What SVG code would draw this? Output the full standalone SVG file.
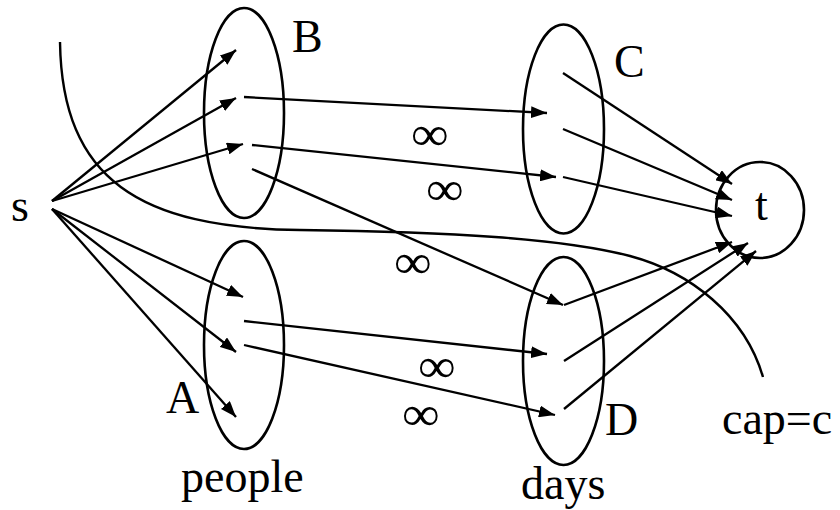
<svg xmlns="http://www.w3.org/2000/svg" width="840" height="510" viewBox="0 0 840 510">
<style>
.set{fill:none;stroke:#000;stroke-width:2.6}
.e{fill:none;stroke:#000;stroke-width:2.3;marker-end:url(#ah)}
.cut{fill:none;stroke:#000;stroke-width:2.4}
text{font-family:"Liberation Serif","Times New Roman",serif;font-size:46px;fill:#000}
.inf{font-size:44px}
</style>
<defs>
<marker id="ah" viewBox="0 0 16 12" refX="16" refY="6" markerWidth="16" markerHeight="12" markerUnits="userSpaceOnUse" orient="auto">
<path d="M0,0 L16,6 L0,12 z" fill="#000"/>
</marker>
</defs>
<rect width="840" height="510" fill="#fff"/>
<g id="node-s"><text x="11" y="221">s</text></g>
<g id="node-B"><ellipse class="set" cx="244" cy="113" rx="40" ry="105"/><text x="292" y="52">B</text></g>
<g id="node-A"><ellipse class="set" cx="244" cy="345" rx="40" ry="104"/><text x="166" y="413">A</text><text x="181" y="492">people</text></g>
<g id="node-C"><ellipse class="set" cx="563.5" cy="129" rx="40.5" ry="104.5"/><text x="614" y="77">C</text></g>
<g id="node-D"><ellipse class="set" cx="563.5" cy="361" rx="40.5" ry="104"/><text x="605" y="435">D</text><text x="521" y="499">days</text></g>
<g id="node-t"><ellipse class="set" cx="760" cy="210" rx="44" ry="48"/><text x="755" y="220">t</text></g>
<g id="connectors">
<line class="e" x1="52" y1="201" x2="236" y2="50"/>
<line class="e" x1="52" y1="201" x2="236" y2="98"/>
<line class="e" x1="52" y1="201" x2="243" y2="144"/>
<line class="e" x1="52" y1="209" x2="243" y2="297"/>
<line class="e" x1="52" y1="209" x2="236" y2="352"/>
<line class="e" x1="52" y1="209" x2="236" y2="417"/>
<line class="e" x1="244" y1="97" x2="547" y2="113"/>
<line class="e" x1="252" y1="145" x2="556" y2="177"/>
<line class="e" x1="252" y1="169" x2="563" y2="305"/>
<line class="e" x1="244" y1="321" x2="547" y2="354"/>
<line class="e" x1="244" y1="345" x2="555" y2="415"/>
<line class="e" x1="563" y1="73" x2="732" y2="184"/>
<line class="e" x1="563" y1="129" x2="732" y2="200"/>
<line class="e" x1="563" y1="177" x2="732" y2="216"/>
<line class="e" x1="564" y1="305" x2="732" y2="242"/>
<line class="e" x1="564" y1="361" x2="748" y2="243"/>
<line class="e" x1="564" y1="409" x2="756" y2="251"/>
<path class="cut" d="M60,42 C62,180 140,228 300,230 C450,232 560,238 630,256 C690,272 745,315 763,377"/>
<text class="inf" transform="translate(411,150) scale(1.2,1.1)">∞</text>
<text class="inf" transform="translate(426,205) scale(1.2,1.1)">∞</text>
<text class="inf" transform="translate(394,278) scale(1.2,1.1)">∞</text>
<text class="inf" transform="translate(418,382) scale(1.2,1.1)">∞</text>
<text class="inf" transform="translate(402,430) scale(1.2,1.1)">∞</text>
<text x="722" y="434">cap=c</text>
</g>
</svg>
